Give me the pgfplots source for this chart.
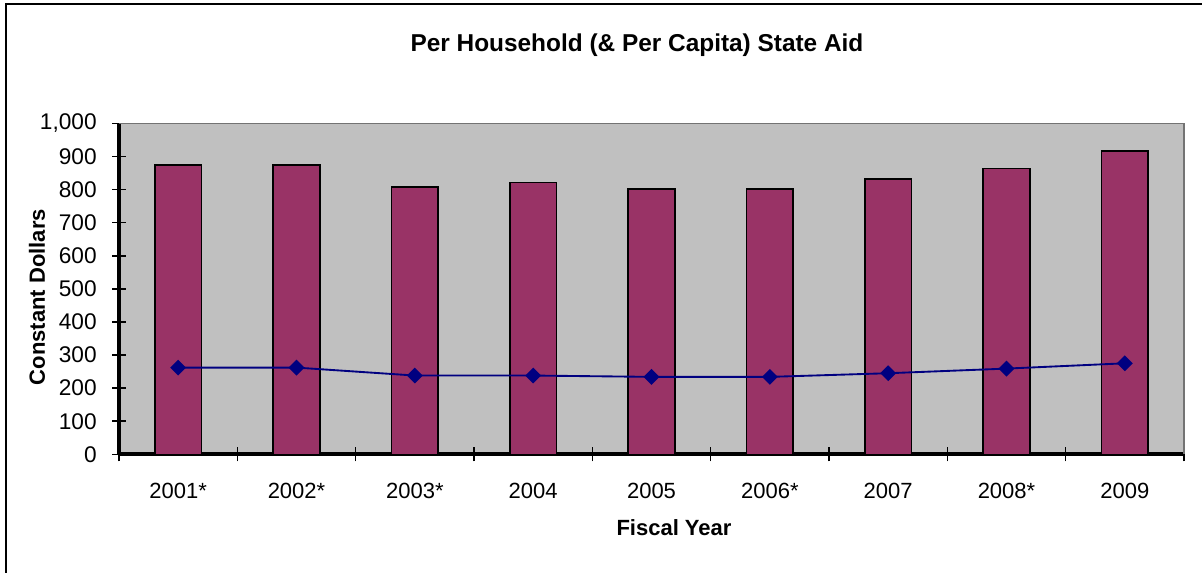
\documentclass[border=0pt]{standalone}
\usepackage{pgfplots}
\pgfplotsset{compat=1.18}
\usepackage{fontspec}
\setmainfont{Liberation Sans}
\definecolor{barplum}{RGB}{153,51,102}
\definecolor{plotgray}{RGB}{192,192,192}
\definecolor{navyline}{RGB}{0,0,128}
\begin{document}
\begin{tikzpicture}
\useasboundingbox (0,0) rectangle (901.5pt,429.75pt);
\begin{scope}
\clip (0,0) rectangle (901.5pt,429.75pt);
\draw[line width=1.1pt] (4.5pt,-20pt) rectangle (920pt,426.75pt);
\end{scope}
\begin{axis}[
  at={(89.25pt,89pt)}, anchor=south west,
  scale only axis, width=798.75pt, height=248.25pt,
  xmin=0.5, xmax=9.5, ymin=0, ymax=1000,
  axis background/.style={fill=plotgray},
  axis x line*=bottom, axis y line*=left,
  axis line style={line width=2.8pt, black},
  xtick={1,...,9},
  xticklabels={2001*,2002*,2003*,2004,2005,2006*,2007,2008*,2009},
  minor xtick={0.5,1.5,...,9.5},
  major x tick style={draw=none},
  minor x tick style={line width=1.2pt, black},
  minor tick length=10.5pt,
  ytick={0,100,...,1000},
  major tick length=10.5pt,
  y tick style={line width=1.2pt, black},
  tick align=center,
  /pgf/number format/assume math mode=true,
  /pgf/number format/1000 sep={,},
  xticklabel style={font=\fontsize{16.5}{18}\selectfont, yshift=-13pt},
  yticklabel style={font=\fontsize{17}{19}\selectfont, xshift=-8pt},
  clip=false,
]
\draw[plotgray!60!black, line width=1pt] (axis cs:0.5,1000) -- (axis cs:9.5,1000) -- (axis cs:9.5,0);
\addplot[ybar, bar width=35pt, fill=barplum, draw=black, line width=1.1pt] coordinates {
(1,874) (2,874) (3,807) (4,821) (5,801) (6,801) (7,832) (8,863) (9,917)};
\addplot[navyline, line width=1.4pt, mark=square*, mark size=3.5pt, mark options={fill=navyline, draw=navyline, rotate=45}] coordinates {
(1,262) (2,262) (3,238) (4,238) (5,234) (6,234) (7,245) (8,259) (9,275)};
\end{axis}
\node[font=\fontsize{18.3}{21}\selectfont\bfseries] at (477.75pt,396pt) {Per Household (\& Per Capita) State Aid};
\node[font=\fontsize{16.5}{19}\selectfont\bfseries, rotate=90] at (27.75pt,207pt) {Constant Dollars};
\node[font=\fontsize{16.5}{19}\selectfont\bfseries] at (505.5pt,33.75pt) {Fiscal Year};
\end{tikzpicture}
\end{document}
